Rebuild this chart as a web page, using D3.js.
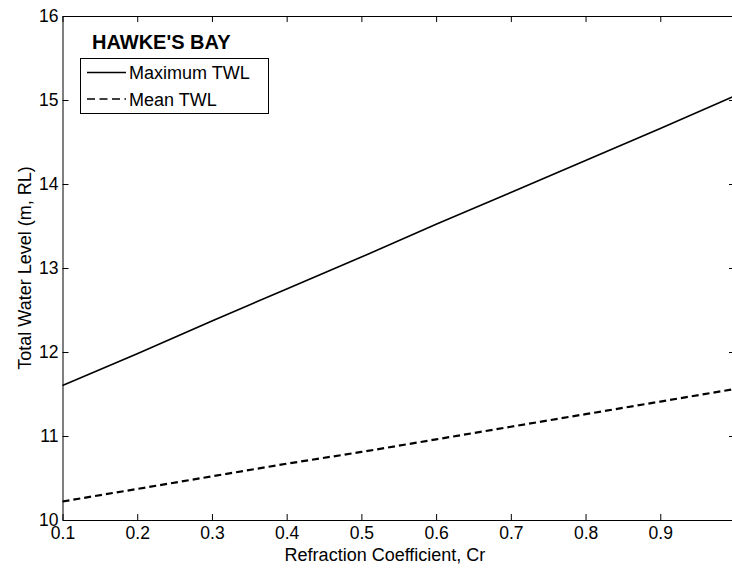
<!DOCTYPE html>
<html>
<head>
<meta charset="utf-8">
<script src="https://cdn.jsdelivr.net/npm/d3@7"></script>
<style>
  html, body { margin: 0; padding: 0; background: #fff; }
  svg { display: block; font-family: "Liberation Sans", Arial, sans-serif; }
</style>
</head>
<body>
<svg id="chart" width="732" height="571"></svg>
<script>
// Refraction coefficient samples and total water levels (m, RL)
const refraction = [0.1, 0.2, 0.3, 0.4, 0.5, 0.6, 0.7, 0.8, 0.9, 1.0];
const maxTWL  = [11.60, 11.98, 12.37, 12.75, 13.13, 13.52, 13.90, 14.28, 14.66, 15.05];
const meanTWL = [10.22, 10.37, 10.52, 10.67, 10.81, 10.96, 11.11, 11.26, 11.41, 11.56];
const xTicks = [0.1, 0.2, 0.3, 0.4, 0.5, 0.6, 0.7, 0.8, 0.9, 1];
const yTicks = [10, 11, 12, 13, 14, 15, 16];
const seriesNames = ["Maximum TWL", "Mean TWL"];
const regionName = "HAWKE'S BAY";

const svg = d3.select("#chart");
const W = 732, H = 571;
const m = { left: 62.5, top: 16, right: 735, bottom: 520 };
const FS = 18;     // labels
const TFS = 17.5;  // tick labels

svg.append("rect").attr("width", W).attr("height", H).attr("fill", "#fff");

const x = d3.scaleLinear().domain([0.1, 1.0]).range([m.left, m.right]);
const y = d3.scaleLinear().domain([10, 16]).range([m.bottom, m.top]);

// the 1.0 tick sits on the right border, its label is left off
const fmtX = d => (d === 1 ? "" : d3.format(".1f")(d));
const TICK = 6;

function styleAxis(g) {
  g.selectAll("path.domain").attr("stroke", "#000").attr("stroke-width", 1);
  g.selectAll(".tick line").attr("stroke", "#000").attr("stroke-width", 1);
  g.selectAll(".tick text").attr("fill", "#000").attr("font-size", TFS)
    .attr("font-family", "Liberation Sans, Arial, sans-serif");
}

// bottom axis, ticks pointing into the plot
svg.append("g").attr("transform", `translate(0,${m.bottom})`)
  .call(d3.axisBottom(x).tickValues(xTicks).tickFormat(fmtX).tickSizeInner(-TICK).tickSizeOuter(0).tickPadding(7))
  .call(styleAxis);
// top axis
svg.append("g").attr("transform", `translate(0,${m.top})`)
  .call(d3.axisTop(x).tickValues(xTicks).tickFormat("").tickSizeInner(-TICK).tickSizeOuter(0))
  .call(styleAxis);
// left axis
svg.append("g").attr("transform", `translate(${m.left},0)`)
  .call(d3.axisLeft(y).tickValues(yTicks).tickFormat(d3.format("d")).tickSizeInner(-TICK).tickSizeOuter(0).tickPadding(4))
  .call(styleAxis);
// right axis
svg.append("g").attr("transform", `translate(${m.right},0)`)
  .call(d3.axisRight(y).tickValues(yTicks).tickFormat("").tickSizeInner(-TICK).tickSizeOuter(0))
  .call(styleAxis);

// series lines
const line = d3.line().x((d, i) => x(refraction[i])).y(d => y(d));
svg.append("path").datum(maxTWL).attr("d", line)
  .attr("fill", "none").attr("stroke", "#000").attr("stroke-width", 1.6);
svg.append("path").datum(meanTWL).attr("d", line)
  .attr("fill", "none").attr("stroke", "#000").attr("stroke-width", 2.2)
  .attr("stroke-dasharray", "7,4");

// axis titles
svg.append("text").attr("x", 385).attr("y", 561).attr("text-anchor", "middle")
  .attr("font-size", FS).text("Refraction Coefficient, Cr");
svg.append("text").attr("transform", `translate(31,${(m.top + m.bottom) / 2}) rotate(-90)`)
  .attr("text-anchor", "middle").attr("font-size", FS).text("Total Water Level (m, RL)");

// region title and legend
svg.append("text").attr("x", 92).attr("y", 48.5).attr("font-size", 20).attr("font-weight", "bold")
  .text(regionName);
const lg = svg.append("g");
lg.append("rect").attr("x", 80.5).attr("y", 58.5).attr("width", 188).attr("height", 55)
  .attr("fill", "#fff").attr("stroke", "#000").attr("stroke-width", 1);
const rows = [72.5, 99];
seriesNames.forEach((name, i) => {
  lg.append("line").attr("x1", 87).attr("x2", 126).attr("y1", rows[i]).attr("y2", rows[i])
    .attr("stroke", "#000").attr("stroke-width", 1.6)
    .attr("stroke-dasharray", i === 1 ? "8,4.5" : null);
  lg.append("text").attr("x", 129).attr("y", rows[i] + 6.5).attr("font-size", FS).text(name);
});
</script>
</body>
</html>
